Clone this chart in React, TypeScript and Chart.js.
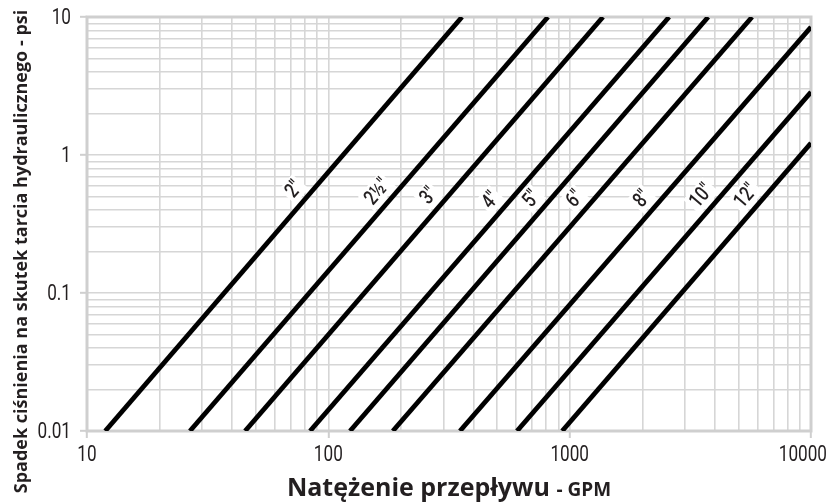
import React, { useEffect, useRef } from "react";
import { Chart, registerables } from "chart.js";

Chart.register(...registerables);

// ---- data ----
const pipeSizes = ['2"', '2½"', '3"', '4"', '5"', '6"', '8"', '10"', '12"'];
const startFlow = [11.9, 26.7, 45.2, 84, 123, 185, 351, 605, 931];
const startLoss = [0.01, 0.01, 0.01, 0.01, 0.01, 0.01, 0.01, 0.01, 0.01];
const endFlow = [358, 813, 1374, 2583, 3750, 5700, 10000, 10000, 10000];
const endLoss = [10, 10, 10, 10, 10, 10, 8.46, 2.86, 1.22];
const labelLoss = [0.48, 0.46, 0.43, 0.4, 0.41, 0.41, 0.41, 0.43, 0.43];

const xMajorTicks = [10, 100, 1000, 10000];
const xTickLabels = ["10", "100", "1000", "10000"];
const yMajorTicks = [0.01, 0.1, 1, 10];
const yTickLabels = ["0.01", "0.1", "1", "10"];

const xTitleMain = "Natężenie przepływu ";
const xTitleUnit = "- GPM";
const yTitle = "Spadek ciśnienia na skutek tarcia hydraulicznego - psi";

// ---- styles ----
const FONT_NUM = 'Roboto, "Open Sans", sans-serif';
const FONT_TITLE = '"Open Sans", "Noto Sans", sans-serif';
const TEXT = "#231f20";
const GRID = "#d6d6d6";
const FRAME = "#cfcfcf";
const SQUEEZE = 0.78;

function gridValues(majors: number[]): number[] {
  const out: number[] = [];
  for (let i = 0; i < majors.length; i++) {
    const base = majors[i];
    if (i === majors.length - 1) {
      out.push(base);
      break;
    }
    for (let m = 1; m <= 9; m++) out.push(+(base * m).toPrecision(6));
  }
  return out;
}

function isMajor(v: number, majors: number[]) {
  return majors.some((m) => Math.abs(v / m - 1) < 1e-6);
}

function narrowText(ctx: any, text: string, x: number, y: number, align: string) {
  const w = ctx.measureText(text).width * SQUEEZE;
  let left = x;
  if (align === "center") left = x - w / 2;
  else if (align === "right") left = x - w;
  ctx.save();
  ctx.translate(left, y);
  ctx.scale(SQUEEZE, 1);
  ctx.textAlign = "left";
  ctx.fillText(text, 0, 0);
  ctx.restore();
  return w;
}

const overlay = {
  id: "overlay",
  beforeDatasetsDraw(chart: any) {
    const { ctx, chartArea: a } = chart;
    ctx.save();
    ctx.strokeStyle = FRAME;
    ctx.lineWidth = 3;
    ctx.strokeRect(a.left, a.top, a.right - a.left, a.bottom - a.top);
    ctx.restore();
  },
  afterDatasetsDraw(chart: any) {
    const { ctx } = chart;
    const xs = chart.scales.x;
    const ys = chart.scales.y;
    ctx.save();
    ctx.font = `500 21px ${FONT_NUM}`;
    ctx.textBaseline = "middle";
    for (let i = 0; i < pipeSizes.length; i++) {
      const lx0 = Math.log10(startFlow[i]);
      const lx1 = Math.log10(endFlow[i]);
      const ly0 = Math.log10(startLoss[i]);
      const ly1 = Math.log10(endLoss[i]);
      const t = (Math.log10(labelLoss[i]) - ly0) / (ly1 - ly0);
      const fx = Math.pow(10, lx0 + t * (lx1 - lx0));
      const px = xs.getPixelForValue(fx);
      const py = ys.getPixelForValue(labelLoss[i]);
      const p0x = xs.getPixelForValue(startFlow[i]);
      const p0y = ys.getPixelForValue(startLoss[i]);
      const p1x = xs.getPixelForValue(endFlow[i]);
      const p1y = ys.getPixelForValue(endLoss[i]);
      const len = Math.hypot(p1x - p0x, p1y - p0y);
      const dx = (p1x - p0x) / len;
      const dy = (p1y - p0y) / len;
      const off = 15;
      const cx = px + dy * off;
      const cy = py - dx * off;
      const ang = Math.atan2(dy, dx);
      ctx.save();
      ctx.translate(cx, cy);
      ctx.rotate(ang);
      const w = ctx.measureText(pipeSizes[i]).width * SQUEEZE + 6;
      ctx.fillStyle = "#ffffff";
      ctx.fillRect(-w / 2, -11, w, 22);
      ctx.fillStyle = TEXT;
      narrowText(ctx, pipeSizes[i], 0, 1, "center");
      ctx.restore();
    }
    ctx.restore();
  },
  afterDraw(chart: any) {
    const { ctx, chartArea: a } = chart;
    const xs = chart.scales.x;
    const ys = chart.scales.y;
    const W = chart.width;
    ctx.save();
    ctx.fillStyle = TEXT;
    // x tick labels
    ctx.font = `22px ${FONT_NUM}`;
    ctx.textBaseline = "middle";
    xMajorTicks.forEach((v, i) => {
      const w = ctx.measureText(xTickLabels[i]).width * SQUEEZE;
      let x = xs.getPixelForValue(v);
      if (x + w / 2 > W - 3) x = W - 3 - w / 2;
      narrowText(ctx, xTickLabels[i], x, a.bottom + 24, "center");
    });
    // y tick labels
    yMajorTicks.forEach((v, i) => {
      narrowText(ctx, yTickLabels[i], a.left - 16, ys.getPixelForValue(v) + 1, "right");
    });
    // x title
    ctx.textBaseline = "alphabetic";
    ctx.textAlign = "left";
    ctx.font = `bold 25px ${FONT_TITLE}`;
    const w1 = ctx.measureText(xTitleMain).width;
    ctx.font = `bold 19px ${FONT_TITLE}`;
    const w2 = ctx.measureText(xTitleUnit).width;
    const cx = (a.left + a.right) / 2;
    const sx = cx - (w1 + w2) / 2;
    ctx.font = `bold 25px ${FONT_TITLE}`;
    ctx.fillText(xTitleMain, sx, 496);
    ctx.font = `bold 19px ${FONT_TITLE}`;
    ctx.fillText(xTitleUnit, sx + w1, 496);
    // y title
    ctx.save();
    ctx.translate(27, chart.height / 2);
    ctx.rotate(-Math.PI / 2);
    ctx.textAlign = "center";
    ctx.font = `bold 18px ${FONT_TITLE}`;
    ctx.fillText(yTitle, 0, 0);
    ctx.restore();
    ctx.restore();
  },
};

export default function App() {
  const ref = useRef<HTMLCanvasElement | null>(null);

  useEffect(() => {
    document.body.style.margin = "0";
    const canvas = ref.current;
    if (!canvas) return;
    const datasets = pipeSizes.map((name, i) => ({
      label: name,
      data: [
        { x: startFlow[i], y: startLoss[i] },
        { x: endFlow[i], y: endLoss[i] },
      ],
      borderColor: "#000000",
      backgroundColor: "#000000",
      borderWidth: 4.8,
      borderCapStyle: "butt" as const,
      pointRadius: 0,
      fill: false,
      tension: 0,
    }));

    const xGrid = gridValues(xMajorTicks);
    const yGrid = gridValues(yMajorTicks);

    const chart = new Chart(canvas, {
      type: "line",
      data: { datasets },
      plugins: [overlay],
      options: {
        responsive: false,
        animation: false,
        layout: { padding: { top: 17, right: 19, left: 0, bottom: 0 } },
        plugins: {
          legend: { display: false },
          tooltip: { enabled: false },
          title: { display: false },
        },
        scales: {
          x: {
            type: "logarithmic",
            min: 10,
            max: 10000,
            afterBuildTicks: (s: any) => {
              s.ticks = xGrid.map((v) => ({ value: v, major: isMajor(v, xMajorTicks) }));
            },
            afterFit: (s: any) => {
              s.height = 72;
              s.paddingLeft = 0;
              s.paddingRight = 0;
            },
            ticks: { display: false, autoSkip: false },
            border: { display: false },
            grid: {
              color: GRID,
              lineWidth: 1.6,
              drawTicks: true,
              tickLength: 7,
              tickWidth: 2,
              tickColor: (c: any) => (c.tick && isMajor(c.tick.value, xMajorTicks) ? FRAME : "rgba(0,0,0,0)"),
            },
          },
          y: {
            type: "logarithmic",
            min: 0.01,
            max: 10,
            afterBuildTicks: (s: any) => {
              s.ticks = yGrid.map((v) => ({ value: v, major: isMajor(v, yMajorTicks) }));
            },
            afterFit: (s: any) => {
              s.width = 87;
              s.paddingTop = 0;
              s.paddingBottom = 0;
            },
            ticks: { display: false, autoSkip: false },
            border: { display: false },
            grid: {
              color: GRID,
              lineWidth: 1.6,
              drawTicks: true,
              tickLength: 7,
              tickWidth: 2,
              tickColor: (c: any) => (c.tick && isMajor(c.tick.value, yMajorTicks) ? FRAME : "rgba(0,0,0,0)"),
            },
          },
        },
      } as any,
    });
    return () => chart.destroy();
  }, []);

  return (
    <div style={{ position: "fixed", left: 0, top: 0, width: 830, height: 503, background: "#fff" }}>
      <canvas ref={ref} width={830} height={503} style={{ display: "block" }} />
    </div>
  );
}
